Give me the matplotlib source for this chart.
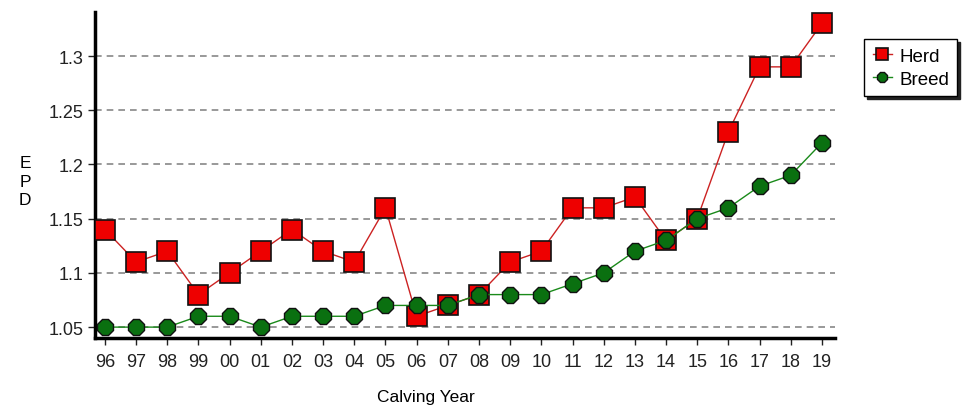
import numpy as np
import matplotlib
matplotlib.use("Agg")
from matplotlib import pyplot as plt

# data
years = ['96', '97', '98', '99', '00', '01', '02', '03', '04', '05', '06', '07',
         '08', '09', '10', '11', '12', '13', '14', '15', '16', '17', '18', '19']
herd = [1.14, 1.11, 1.12, 1.08, 1.10, 1.12, 1.14, 1.12, 1.11, 1.16, 1.06, 1.07,
        1.08, 1.11, 1.12, 1.16, 1.16, 1.17, 1.13, 1.15, 1.23, 1.29, 1.29, 1.33]
breed = [1.05, 1.05, 1.05, 1.06, 1.06, 1.05, 1.06, 1.06, 1.06, 1.07, 1.07, 1.07,
         1.08, 1.08, 1.08, 1.09, 1.10, 1.12, 1.13, 1.15, 1.16, 1.18, 1.19, 1.22]
yticks = [1.05, 1.1, 1.15, 1.2, 1.25, 1.3]
ytick_labels = ['1.05', '1.1', '1.15', '1.2', '1.25', '1.3']

plt.rcParams['font.family'] = ['Liberation Sans', 'DejaVu Sans']

fig = plt.figure(figsize=(9.68, 4.14), dpi=100)
ax = fig.add_axes([0.0981, 0.181, 0.7645, 0.7876])

x = np.arange(len(years))

for y in yticks:
    ax.axhline(y, color='#888888', linestyle=(0, (4, 3)), linewidth=1.2, zorder=0)

ax.plot(x, herd, color='#cc2222', linewidth=1, marker='s', markersize=15,
        markerfacecolor='#ee0000', markeredgecolor='#111111', markeredgewidth=1.2,
        label='Herd', zorder=3)
ax.plot(x, breed, color='#1a8a1a', linewidth=1, marker='8', markersize=12.5,
        markerfacecolor='#0a7010', markeredgecolor='#111111', markeredgewidth=1,
        label='Breed', zorder=4)

ax.set_xlim(-0.32, 23.42)
ax.set_ylim(1.0399, 1.3406)
ax.set_xticks(x)
ax.set_xticklabels(years)
ax.set_yticks(yticks)
ax.set_yticklabels(ytick_labels)
ax.tick_params(axis='both', labelsize=13, colors='#222222', length=5, width=1)
ax.tick_params(axis='x', pad=6)
ax.tick_params(axis='y', pad=3)

for s in ['top', 'right']:
    ax.spines[s].set_visible(False)
for s in ['left', 'bottom']:
    ax.spines[s].set_linewidth(2.5)
    ax.spines[s].set_color('black')

fig.text(0.0258, 0.56, 'E\nP\nD', fontsize=12.5, ha='center', va='center', linespacing=1.3)
fig.text(0.44, 0.04, 'Calving Year', fontsize=12.5, ha='center', va='center')

leg = ax.legend(loc='upper left', bbox_to_anchor=(1.027, 0.945), fontsize=13.5,
                frameon=True, fancybox=False, shadow={'color': '#222222', 'alpha': 1},
                handlelength=1.0, handletextpad=0.4, borderpad=0.45, labelspacing=0.3,
                markerscale=0.6)
leg.get_frame().set_edgecolor('black')
leg.get_frame().set_linewidth(1)

fig.savefig('out.png', dpi=100)
